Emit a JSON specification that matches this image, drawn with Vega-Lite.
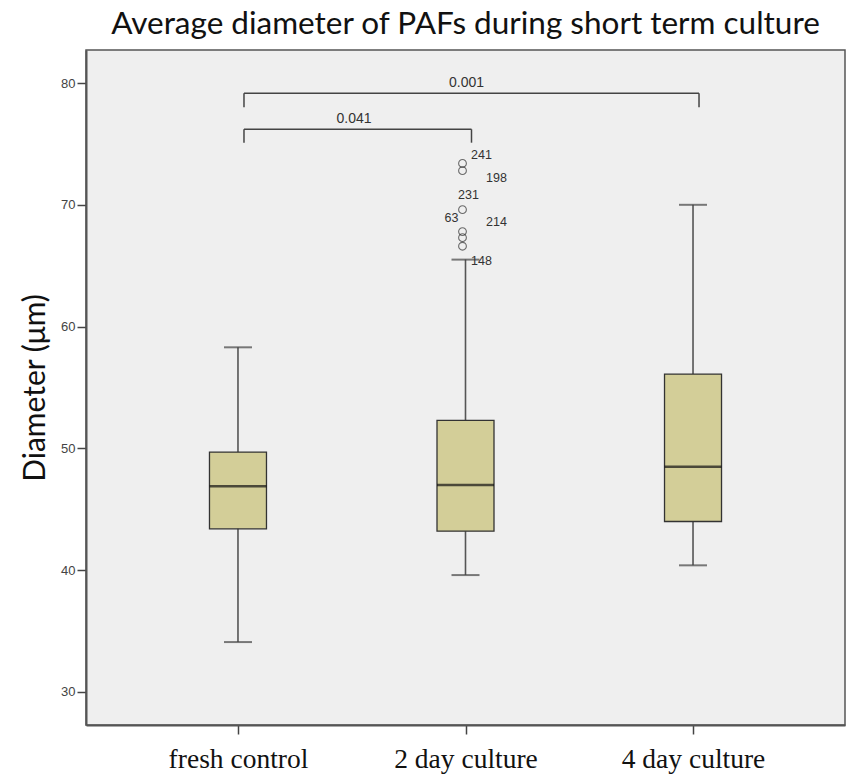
{
  "$schema": "https://vega.github.io/schema/vega-lite/v6.json",
  "width": 759,
  "height": 675,
  "autosize": {"type": "none"},
  "padding": {"left": 86, "top": 50, "right": 3, "bottom": 54},
  "background": "white",
  "title": {
    "text": "Average diameter of PAFs during short term culture",
    "font": "Lato",
    "fontSize": 31.5,
    "fontWeight": "normal",
    "color": "#111",
    "anchor": "middle",
    "offset": 10
  },
  "config": {
    "view": {"stroke": "#555", "strokeWidth": 1.5, "fill": "#EFEFEF"},
    "axis": {"grid": false}
  },
  "datasets": {
    "boxes": [
      {"group": "fresh control", "lower": 34.1, "q1": 43.4, "median": 46.9, "q3": 49.7, "upper": 58.3},
      {"group": "2 day culture", "lower": 39.6, "q1": 43.2, "median": 47.0, "q3": 52.3, "upper": 65.5},
      {"group": "4 day culture", "lower": 40.4, "q1": 44.0, "median": 48.5, "q3": 56.1, "upper": 70.0}
    ],
    "outliers": [
      {"group": "2 day culture", "value": 73.4},
      {"group": "2 day culture", "value": 72.8},
      {"group": "2 day culture", "value": 69.6},
      {"group": "2 day culture", "value": 67.8},
      {"group": "2 day culture", "value": 67.3},
      {"group": "2 day culture", "value": 66.6}
    ],
    "labels": [
      {"group": "2 day culture", "label": "241", "at": 74.1},
      {"group": "2 day culture", "label": "198", "at": 72.2},
      {"group": "2 day culture", "label": "231", "at": 70.8},
      {"group": "2 day culture", "label": "63", "at": 68.9},
      {"group": "2 day culture", "label": "214", "at": 68.6},
      {"group": "2 day culture", "label": "148", "at": 65.4}
    ],
    "brackets": [
      {"from": "fresh control", "to": "4 day culture", "level": 79.15, "foot": 78.0, "p": "0.001", "mid": "2 day culture"},
      {"from": "fresh control", "to": "2 day culture", "level": 76.2, "foot": 75.1, "p": "0.041", "mid": "fresh control"}
    ]
  },
  "encoding": {
    "x": {
      "field": "group",
      "type": "nominal",
      "sort": ["fresh control", "2 day culture", "4 day culture"],
      "scale": {"type": "point", "padding": 0.668, "domain": ["fresh control", "2 day culture", "4 day culture"]},
      "axis": {
        "title": null,
        "labelAngle": 0,
        "labelFont": "Liberation Serif",
        "labelFontSize": 27.5,
        "labelColor": "#111",
        "labelPadding": 11,
        "tickSize": 9,
        "tickColor": "#444",
        "tickWidth": 1.5,
        "domainColor": "#555",
        "domainWidth": 2
      }
    }
  },
  "layer": [
    {
      "data": {"name": "boxes"},
      "mark": {"type": "rule", "color": "#555", "strokeWidth": 1.6},
      "encoding": {
        "y": {
          "field": "lower",
          "type": "quantitative",
          "scale": {"domain": [27.29, 82.71], "nice": false, "zero": false},
          "axis": {
            "title": "Diameter (μm)",
            "titleFont": "Lato",
            "titleFontSize": 30,
            "titleFontWeight": "normal",
            "titleColor": "#111",
            "titlePadding": 10,
            "values": [30, 40, 50, 60, 70, 80],
            "labelFont": "Liberation Sans",
            "labelFontSize": 13,
            "labelColor": "#444",
            "tickSize": 9,
            "tickColor": "#444",
            "tickWidth": 1.5,
            "domainColor": "#555",
            "domainWidth": 2
          }
        },
        "y2": {"field": "upper"}
      }
    },
    {
      "data": {"name": "boxes"},
      "mark": {"type": "tick", "color": "#444", "size": 28, "thickness": 2},
      "encoding": {"y": {"field": "lower", "type": "quantitative"}}
    },
    {
      "data": {"name": "boxes"},
      "mark": {"type": "tick", "color": "#444", "size": 28, "thickness": 2},
      "encoding": {"y": {"field": "upper", "type": "quantitative"}}
    },
    {
      "data": {"name": "boxes"},
      "mark": {"type": "bar", "size": 57, "fill": "#D3CE98", "stroke": "#333", "strokeWidth": 1.3},
      "encoding": {
        "y": {"field": "q1", "type": "quantitative"},
        "y2": {"field": "q3"}
      }
    },
    {
      "data": {"name": "boxes"},
      "mark": {"type": "tick", "color": "#111", "size": 57, "thickness": 2.5},
      "encoding": {"y": {"field": "median", "type": "quantitative"}}
    },
    {
      "data": {"name": "outliers"},
      "mark": {"type": "point", "shape": "circle", "filled": false, "stroke": "#333", "strokeWidth": 1.1, "size": 60, "xOffset": -3},
      "encoding": {"y": {"field": "value", "type": "quantitative"}}
    },
    {
      "data": {"name": "labels"},
      "transform": [{"filter": {"field": "label", "oneOf": ["241", "148"]}}],
      "mark": {"type": "text", "font": "Liberation Sans", "fontSize": 12.5, "color": "#333", "dx": 16, "baseline": "middle"},
      "encoding": {"y": {"field": "at", "type": "quantitative"}, "text": {"field": "label"}}
    },
    {
      "data": {"name": "labels"},
      "transform": [{"filter": {"field": "label", "oneOf": ["198", "214"]}}],
      "mark": {"type": "text", "font": "Liberation Sans", "fontSize": 12.5, "color": "#333", "dx": 31, "baseline": "middle"},
      "encoding": {"y": {"field": "at", "type": "quantitative"}, "text": {"field": "label"}}
    },
    {
      "data": {"name": "labels"},
      "transform": [{"filter": {"field": "label", "oneOf": ["231"]}}],
      "mark": {"type": "text", "font": "Liberation Sans", "fontSize": 12.5, "color": "#333", "dx": 3, "baseline": "middle"},
      "encoding": {"y": {"field": "at", "type": "quantitative"}, "text": {"field": "label"}}
    },
    {
      "data": {"name": "labels"},
      "transform": [{"filter": {"field": "label", "oneOf": ["63"]}}],
      "mark": {"type": "text", "font": "Liberation Sans", "fontSize": 12.5, "color": "#333", "dx": -14, "baseline": "middle"},
      "encoding": {"y": {"field": "at", "type": "quantitative"}, "text": {"field": "label"}}
    },
    {
      "data": {"name": "brackets"},
      "mark": {"type": "rule", "color": "#444", "strokeWidth": 1.5, "xOffset": 6, "x2Offset": 6},
      "encoding": {
        "x": {"field": "from", "type": "nominal"},
        "x2": {"field": "to"},
        "y": {"field": "level", "type": "quantitative"}
      }
    },
    {
      "data": {"name": "brackets"},
      "mark": {"type": "rule", "color": "#444", "strokeWidth": 1.5, "xOffset": 6},
      "encoding": {
        "x": {"field": "from", "type": "nominal"},
        "y": {"field": "foot", "type": "quantitative"},
        "y2": {"field": "level"}
      }
    },
    {
      "data": {"name": "brackets"},
      "mark": {"type": "rule", "color": "#444", "strokeWidth": 1.5, "xOffset": 6},
      "encoding": {
        "x": {"field": "to", "type": "nominal"},
        "y": {"field": "foot", "type": "quantitative"},
        "y2": {"field": "level"}
      }
    },
    {
      "data": {"name": "brackets"},
      "transform": [{"filter": {"field": "p", "equal": "0.001"}}],
      "mark": {"type": "text", "font": "Liberation Sans", "fontSize": 14, "color": "#333", "baseline": "bottom", "dy": -3, "dx": 1},
      "encoding": {
        "x": {"field": "mid", "type": "nominal"},
        "y": {"field": "level", "type": "quantitative"},
        "text": {"field": "p"}
      }
    },
    {
      "data": {"name": "brackets"},
      "transform": [{"filter": {"field": "p", "equal": "0.041"}}],
      "mark": {"type": "text", "font": "Liberation Sans", "fontSize": 14, "color": "#333", "baseline": "bottom", "dy": -3, "dx": 116},
      "encoding": {
        "x": {"field": "mid", "type": "nominal"},
        "y": {"field": "level", "type": "quantitative"},
        "text": {"field": "p"}
      }
    }
  ]
}
